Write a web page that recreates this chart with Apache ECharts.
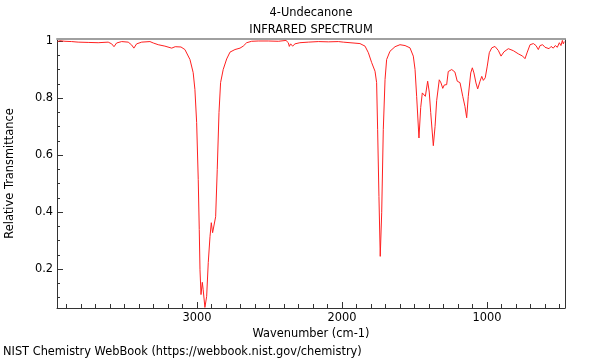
<!DOCTYPE html>
<html><head><meta charset="utf-8">
<script src="https://cdn.jsdelivr.net/npm/echarts@6/dist/echarts.min.js"></script>
<style>html,body{margin:0;padding:0;background:#fff}#c{width:600px;height:360px}</style>
</head><body><div id="c"></div>
<script>
const wavenumbers = [3961,3945,3910,3864,3819,3750,3681,3612,3588,3572,3554,3519,3474,3450,3435,3416,3381,3324,3301,3267,3221,3174,3150,3140,3110,3083,3048,3026,3014,3002,2991,2984,2979,2972,2963,2957,2945,2933,2922,2910,2901,2892,2881,2871,2860,2848,2837,2819,2795,2772,2738,2703,2681,2657,2623,2577,2508,2439,2386,2370,2363,2354,2340,2324,2290,2232,2163,2094,2025,1991,1876,1841,1818,1795,1772,1761,1754,1745,1736,1726,1715,1703,1692,1669,1634,1600,1565,1531,1508,1496,1485,1469,1457,1446,1434,1425,1409,1398,1388,1370,1358,1347,1329,1317,1305,1294,1278,1267,1243,1221,1205,1186,1167,1152,1140,1129,1112,1101,1090,1076,1064,1048,1036,1025,1012,998,984,967,945,922,903,883,853,818,784,754,738,722,703,680,662,646,634,616,600,590,572,558,543,529,515,501,490,480,474,467];
const transmittance = [0.998,1.001,0.999,0.998,0.996,0.995,0.994,0.996,0.990,0.980,0.993,0.998,0.996,0.986,0.975,0.990,0.996,0.998,0.993,0.987,0.982,0.975,0.980,0.985,0.979,0.970,0.935,0.889,0.830,0.714,0.514,0.339,0.198,0.111,0.154,0.128,0.066,0.105,0.223,0.314,0.363,0.328,0.332,0.384,0.549,0.749,0.854,0.900,0.937,0.961,0.970,0.975,0.982,0.994,0.999,1.000,1.000,0.999,1.002,0.994,0.981,0.990,0.982,0.990,0.994,0.996,0.998,0.997,0.998,0.996,0.991,0.982,0.959,0.924,0.894,0.854,0.689,0.455,0.245,0.398,0.689,0.865,0.935,0.964,0.980,0.987,0.984,0.976,0.947,0.900,0.806,0.660,0.767,0.818,0.812,0.806,0.859,0.821,0.749,0.633,0.701,0.791,0.864,0.853,0.834,0.846,0.847,0.893,0.900,0.891,0.859,0.854,0.806,0.771,0.731,0.806,0.888,0.906,0.888,0.853,0.832,0.859,0.876,0.862,0.871,0.912,0.959,0.976,0.981,0.967,0.947,0.962,0.973,0.966,0.955,0.947,0.938,0.961,0.987,0.991,0.984,0.970,0.984,0.987,0.978,0.982,0.973,0.981,0.975,0.984,0.978,0.994,0.984,1.002,0.990,0.998];
const xMinorTicks = [];
for (let v = 500; v <= 3900; v += 100) xMinorTicks.push(v);
const xMajorTicks = [1000, 2000, 3000];
const yMinorTicks = [0.1,0.15,0.2,0.25,0.3,0.35,0.4,0.45,0.5,0.55,0.6,0.65,0.7,0.75,0.8,0.85,0.9,0.95,1];
const yMajorTicks = [0.2, 0.4, 0.6, 0.8, 1];
const titleLines = ['4-Undecanone', 'INFRARED SPECTRUM'];
const xName = 'Wavenumber (cm-1)';
const yName = 'Relative Transmittance';
const credit = 'NIST Chemistry WebBook (https://webbook.nist.gov/chemistry)';

const X_MIN = 462, X_MAX = 3965, Y_MIN = 0.064, Y_MAX = 1.007;
const FONT = 'DejaVu Sans';
const FS = 11.4;
const dark = '#333333';

const chart = echarts.init(document.getElementById('c'), null, {renderer: 'canvas'});
const baseX = {type: 'value', min: X_MIN, max: X_MAX, inverse: true, splitLine: {show: false}};
const baseY = {type: 'value', min: Y_MIN, max: Y_MAX, splitLine: {show: false}};
const txt = {color: '#000', fontFamily: FONT, fontSize: FS};
chart.setOption({
  animation: false,
  grid: {left: 57, right: 35, top: 39, bottom: 52, containLabel: false, outerBoundsMode: 'none'},
  xAxis: [
    Object.assign({}, baseX, {position: 'bottom',
      axisLine: {show: true, lineStyle: {color: dark, width: 1}},
      axisTick: {show: true, inside: true, length: 4, customValues: xMinorTicks, lineStyle: {color: dark}},
      axisLabel: Object.assign({show: true, customValues: xMajorTicks, margin: 5, formatter: v => String(v)}, txt),
      name: xName, nameLocation: 'middle', nameGap: 20,
      nameTextStyle: txt}),
    Object.assign({}, baseX, {position: 'bottom',
      axisLine: {show: false},
      axisTick: {show: true, inside: true, length: 6, customValues: xMajorTicks, lineStyle: {color: dark}},
      axisLabel: {show: false}}),
    Object.assign({}, baseX, {position: 'top',
      axisLine: {show: true, lineStyle: {color: '#a0a0a0', width: 2}},
      axisTick: {show: false}, axisLabel: {show: false}})
  ],
  yAxis: [
    Object.assign({}, baseY, {position: 'left',
      axisLine: {show: true, lineStyle: {color: dark, width: 1}},
      axisTick: {show: true, inside: true, length: 3, customValues: yMinorTicks, lineStyle: {color: dark}},
      axisLabel: Object.assign({show: true, customValues: yMajorTicks, margin: 4}, txt),
      name: yName, nameLocation: 'middle', nameGap: 41, nameRotate: 90,
      nameTextStyle: txt}),
    Object.assign({}, baseY, {position: 'left',
      axisLine: {show: false},
      axisTick: {show: true, inside: true, length: 6, customValues: yMajorTicks, lineStyle: {color: dark}},
      axisLabel: {show: false}}),
    Object.assign({}, baseY, {position: 'right',
      axisLine: {show: true, lineStyle: {color: dark, width: 1}},
      axisTick: {show: false}, axisLabel: {show: false}})
  ],
  graphic: [
    {type: 'text', x: 311, y: 8, style: {text: titleLines[0], fill: '#000', font: FS + 'px "' + FONT + '"', textAlign: 'center'}},
    {type: 'text', x: 311, y: 25, style: {text: titleLines[1], fill: '#000', font: FS + 'px "' + FONT + '"', textAlign: 'center'}},
    {type: 'text', x: 3, y: 347, style: {text: credit, fill: '#000', font: FS + 'px "' + FONT + '"'}}
  ],
  series: [{
    type: 'line', xAxisIndex: 0, yAxisIndex: 0,
    data: wavenumbers.map((w, i) => [w, transmittance[i]]),
    showSymbol: false, symbol: 'none', smooth: false,
    lineStyle: {color: '#ff2020', width: 1}
  }]
});
</script></body></html>
